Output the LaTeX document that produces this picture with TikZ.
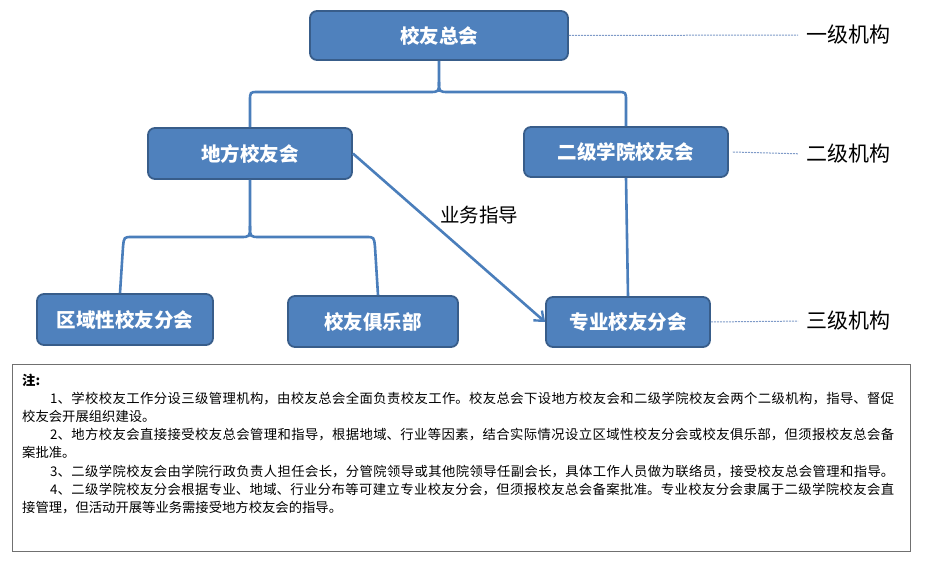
\documentclass[tikz,border=0pt]{standalone}
\usepackage{fontspec}
\setmainfont{Noto Sans CJK SC}
\usetikzlibrary{arrows.meta}
\XeTeXlinebreaklocale "zh"
\XeTeXlinebreakskip=0pt plus 1.5pt
\definecolor{boxfill}{HTML}{4F81BD}
\definecolor{boxline}{HTML}{385D8A}
\definecolor{connc}{HTML}{4A7EBB}
\definecolor{dashc}{HTML}{7F9BC8}
\definecolor{notec}{HTML}{707070}
\tikzset{
  orgbox/.style={draw=boxline, fill=boxfill, line width=1.8pt, rounded corners=7pt,
    text=white, font=\fontsize{19.5}{24}\selectfont\bfseries, inner sep=0pt},
  conn/.style={draw=connc, line width=2.6pt},
  levelline/.style={draw=dashc, line width=1pt, dash pattern=on 2pt off 1pt, shorten >=8pt},
  levellabel/.style={anchor=west, inner sep=0pt, font=\fontsize{21}{24}\selectfont, text=black},
  guidelabel/.style={inner sep=0pt, font=\fontsize{19.5}{24}\selectfont, text=black},
  notebox/.style={draw=notec, line width=1.2pt, fill=white, inner sep=0pt}
}
\begin{document}
\begin{tikzpicture}[x=1pt, y=-1pt]
\useasboundingbox (0,0) rectangle (931,561);
% boxes
\node[orgbox, minimum width=258pt, minimum height=49pt] (top) at (439,35.5) {校友总会};
\node[orgbox, minimum width=204pt, minimum height=51pt] (lf) at (250,153.5) {地方校友会};
\node[orgbox, minimum width=204pt, minimum height=50pt] (col) at (626,152) {二级学院校友会};
\node[orgbox, minimum width=176pt, minimum height=51pt] (reg) at (125,319.5) {区域性校友分会};
\node[orgbox, minimum width=170pt, minimum height=51pt] (club) at (373,321.5) {校友俱乐部};
\node[orgbox, minimum width=164pt, minimum height=50pt] (spec) at (628,322) {专业校友分会};
% level labels
\node[levellabel] (l1) at (806,35) {一级机构};
\node[levellabel] (l2) at (806,154) {二级机构};
\node[levellabel] (l3) at (806,321) {三级机构};
\draw[levelline] (top.east) -- (l1.west);
\draw[levelline] ([xshift=4pt]col.east) -- (l2.west);
\draw[levelline] (spec.east) -- (l3.west);
% top brace
\coordinate (s1) at (439,82);
\draw[conn] (top.south) -- (s1) .. controls (439,92) .. (429,92) -- (258,92)
  .. controls (250,92) .. (250,101) -- (lf.north);
\draw[conn] (s1) .. controls (439,92) .. (449,92) -- (617,92)
  .. controls (626,92) .. (626,101) -- (col.north);
% lower brace
\coordinate (s2) at (250,226);
\draw[conn] (lf.south) -- (s2) .. controls (250,237) .. (240,237) -- (132,237)
  .. controls (124,237) .. (123,247) -- ([xshift=-5pt]reg.north);
\draw[conn] (s2) .. controls (250,237) .. (260,237) -- (366,237)
  .. controls (374,237) .. (375,247) -- ([xshift=5pt]club.north);
% college to specialty
\draw[conn] (col.south) -- (spec.north);
% guidance arrow
\draw[conn, -{Straight Barb[length=8pt, width=13pt, line width=2.4pt]}] (lf.east) -- (spec.west);
\node[guidelabel] (guide) at (479,215) {业务指导};
% note
\node[notebox, anchor=north west, minimum width=898pt, minimum height=187pt] (note) at (12,364) {};
\node[anchor=base west, inner sep=0pt] (notetext) at (22,385) {\parbox[t]{872pt}{%
\fontsize{13.33}{18.2}\selectfont\setlength\parindent{0pt}%
{\bfseries 注:}\par
{\parfillskip=0pt\hspace*{28pt}1、学校校友工作分设三级管理机构，由校友总会全面负责校友工作。校友总会下设地方校友会和二级学院校友会两个二级机构，指导、督促\par}
校友会开展组织建设。\par
{\parfillskip=0pt\hspace*{28pt}2、地方校友会直接接受校友总会管理和指导，根据地域、行业等因素，结合实际情况设立区域性校友分会或校友俱乐部，但须报校友总会备\par}
案批准。\par
{\parfillskip=0pt\hspace*{28pt}3、二级学院校友会由学院行政负责人担任会长，分管院领导或其他院领导任副会长，具体工作人员做为联络员，接受校友总会管理和指导。\par}
{\parfillskip=0pt\hspace*{28pt}4、二级学院校友分会根据专业、地域、行业分布等可建立专业校友分会，但须报校友总会备案批准。专业校友分会隶属于二级学院校友会直\par}
接管理，但活动开展等业务需接受地方校友会的指导。\par}};
\end{tikzpicture}
\end{document}
